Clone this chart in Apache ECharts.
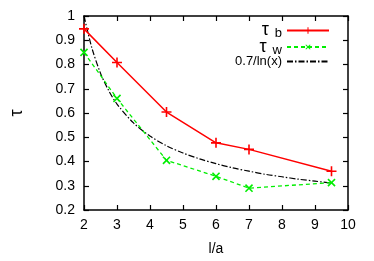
<!DOCTYPE html>
<html><head><meta charset="utf-8">
<script src="https://cdn.jsdelivr.net/npm/echarts@6/dist/echarts.min.js"></script>
<style>html,body{margin:0;padding:0;background:#fff}#c{width:374px;height:261px}</style>
</head><body><div id="c"></div>
<script>
const xTicks = [2,3,4,5,6,7,8,9,10];
const yTicks = [0.2,0.3,0.4,0.5,0.6,0.7,0.8,0.9,1];
const xB = [2, 3, 4.5, 6, 7, 9.5];
const tauB = [0.947, 0.808, 0.604, 0.477, 0.450, 0.360];
const xW = [2, 3, 4.5, 6, 7, 9.5];
const tauW = [0.850, 0.660, 0.405, 0.339, 0.290, 0.313];
const xFit = [2, 2.1, 2.25, 2.5, 2.75, 3, 3.5, 4, 4.5, 5, 5.5, 6, 6.5, 7, 7.5, 8, 8.5, 9, 9.5];
const fitVals = [1.0, 0.943, 0.863, 0.764, 0.692, 0.637, 0.559, 0.505, 0.465, 0.435, 0.411, 0.391, 0.374, 0.360, 0.347, 0.337, 0.327, 0.319, 0.311];
const names = ['tb', 'tw', '0.7/ln(x)'];

const plus = 'path://M4.2,0h1.6v4.2h4.2v1.6h-4.2v4.2h-1.6v-4.2h-4.2v-1.6h4.2z';
const font = 'Liberation Sans, Arial, sans-serif';
const zip = (a, b) => a.map((v, i) => [v, b[i]]);
const fmt = v => String(Math.round(v * 10) / 10);

const chart = echarts.init(document.getElementById('c'), null, {renderer: 'canvas'});
const axisCommon = {
  axisLine: {show: true, lineStyle: {color: '#000', width: 1.5}},
  axisTick: {show: true, inside: true, length: 5, lineStyle: {color: '#000', width: 1.2}},
  splitLine: {show: false}
};
chart.setOption({
  animation: false,
  backgroundColor: '#fff',
  grid: {left: 77, right: 26, top: 16, bottom: 45, containLabel: false},
  xAxis: [
    Object.assign({type: 'value', min: 2, max: 10, interval: 1, position: 'bottom',
      name: 'l/a', nameLocation: 'middle', nameGap: 32,
      nameTextStyle: {fontFamily: font, fontSize: 14, color: '#000'},
      axisLabel: {fontFamily: font, fontSize: 14, color: '#000', margin: 8, formatter: fmt}}, axisCommon),
    Object.assign({type: 'value', min: 2, max: 10, interval: 1, position: 'top',
      axisLabel: {show: false}}, axisCommon)
  ],
  yAxis: [
    Object.assign({type: 'value', min: 0.2, max: 1, interval: 0.1, position: 'left',
      name: 'τ', nameLocation: 'middle', nameGap: 58, nameRotate: 90,
      nameTextStyle: {fontFamily: font, fontSize: 18, color: '#000'},
      axisLabel: {fontFamily: font, fontSize: 14, color: '#000', margin: 9, formatter: fmt}}, axisCommon),
    Object.assign({type: 'value', min: 0.2, max: 1, interval: 0.1, position: 'right',
      axisLabel: {show: false}}, axisCommon)
  ],
  legend: {
    orient: 'vertical', right: 44, top: 21, padding: 0, itemGap: -2.5,
    align: 'right', itemWidth: 42, itemHeight: 8,
    data: [{name: 'tb'}, {name: 'tw'}, {name: '0.7/ln(x)', itemStyle: {opacity: 0}}],
    formatter: n => n === 'tb' ? '{t|τ}{s|b}' : n === 'tw' ? '{t|τ}{s|w}' : n,
    textStyle: {fontFamily: font, fontSize: 13, color: '#000', lineHeight: 15,
      rich: {t: {fontFamily: font, fontSize: 18, color: '#000', lineHeight: 15},
             s: {fontFamily: font, fontSize: 13, color: '#000', lineHeight: 15, padding: [6, 0, 0, 6]}}}
  },
  series: [
    {name: 'tb', type: 'line', data: zip(xB, tauB), symbol: plus, symbolSize: 10,
      lineStyle: {color: '#ff0000', width: 1.5}, itemStyle: {color: '#ff0000'}, z: 3},
    {name: 'tw', type: 'line', data: zip(xW, tauW), symbol: plus, symbolSize: 10, symbolRotate: 45,
      lineStyle: {color: '#00ee00', width: 1.3, type: [4, 3]}, itemStyle: {color: '#00ee00'}, z: 2},
    {name: '0.7/ln(x)', type: 'line', data: zip(xFit, fitVals), symbol: 'none', smooth: 0.3,
      lineStyle: {color: '#000', width: 1.2, type: [6, 2, 1.5, 2]}, itemStyle: {color: '#000'}, z: 1}
  ]
});
</script></body></html>
